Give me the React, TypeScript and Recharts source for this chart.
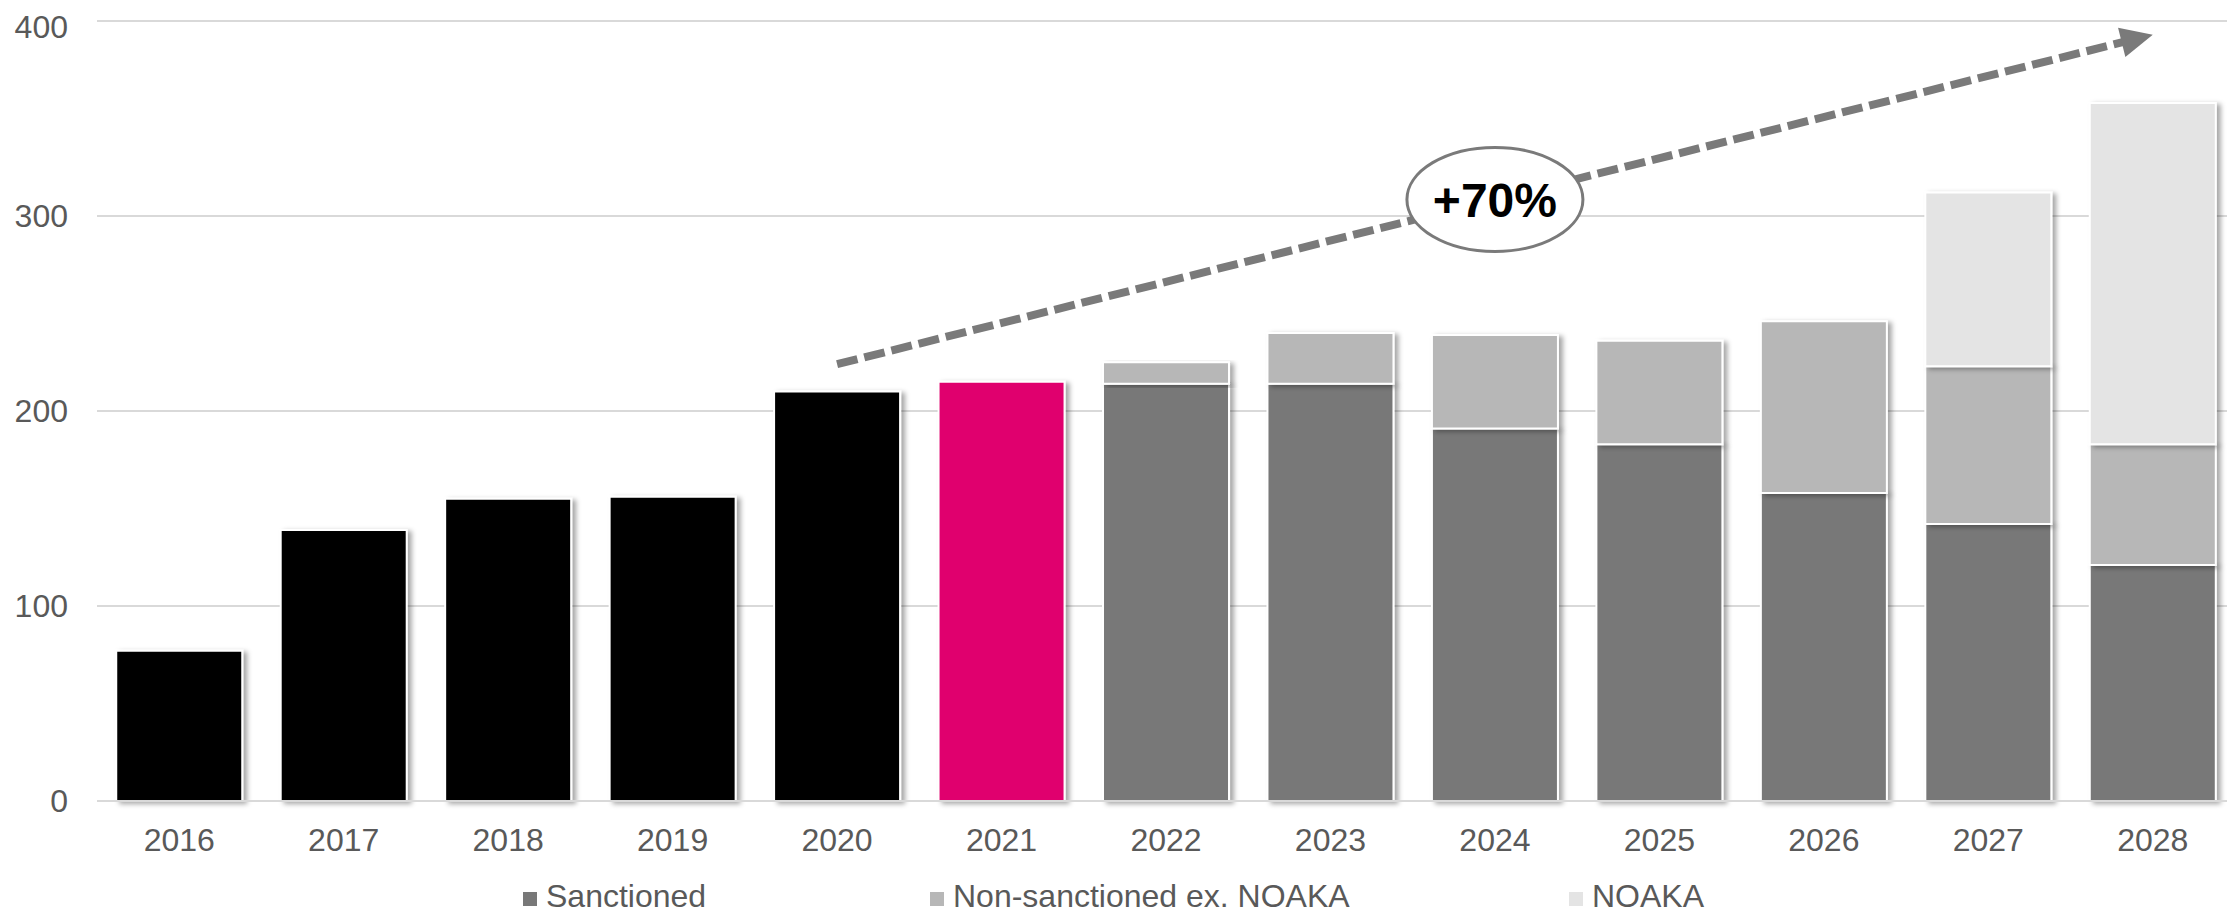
import React from "react";
import {
  BarChart,
  Bar,
  XAxis,
  YAxis,
  CartesianGrid,
  Legend,
  ReferenceLine,
  Rectangle,
  Cell,
} from "recharts";

// ---- data ----
const years = ["2016", "2017", "2018", "2019", "2020", "2021", "2022", "2023", "2024", "2025", "2026", "2027", "2028"];
const historical = [77, 139, 155, 156, 210, 215, null, null, null, null, null, null, null];
const sanctioned = [null, null, null, null, null, null, 214, 214, 191, 183, 158, 142, 121];
const nonSanctioned = [null, null, null, null, null, null, 11, 26, 48, 53, 88, 81, 62];
const noaka = [null, null, null, null, null, null, null, null, null, null, null, 89, 175];
const yTicks = [0, 100, 200, 300, 400];
const seriesNames = ["Sanctioned", "Non-sanctioned ex. NOAKA", "NOAKA"];
const trendStart = { x: "2020", y: 224 };
const trendEnd = { x: "2028", y: 393 };
const trendLabel = "+70%";
const highlightYear = "2021";

const data = years.map((year, i) => ({
  year,
  historical: historical[i],
  sanctioned: sanctioned[i],
  nonSanctioned: nonSanctioned[i],
  noaka: noaka[i],
}));

const FONT = '"Liberation Sans", Arial, Helvetica, sans-serif';
const TEXT_COLOR = "#595959";
const GRID = "#d9d9d9";
const C_SANCT = "#787878";
const C_NONS = "#b7b7b7";
const C_NOAKA = "#e4e4e4";
const C_HIST = "#000000";
const C_HIGHLIGHT = "#e0006e";
const ARROW = "#7a7a7a";

const ShadowBar = (props: any) => {
  const { x, y, width, height } = props;
  if (!height || height <= 0) return null;
  return (
    <Rectangle
      x={x}
      y={y}
      width={width}
      height={height}
      fill={props.fill}
      stroke="#ffffff"
      strokeWidth={2}
      filter="url(#barShadow)"
    />
  );
};

const TrendArrow = (props: any) => {
  const { x1, y1, x2, y2 } = props;
  if ([x1, y1, x2, y2].some((v) => typeof v !== "number" || isNaN(v))) return null;
  const dx = x2 - x1;
  const dy = y2 - y1;
  const L = Math.sqrt(dx * dx + dy * dy);
  const ux = dx / L;
  const uy = dy / L;
  const px = -uy;
  const py = ux;
  const headLen = 32;
  const headHalf = 15;
  const bx = x2 - ux * headLen;
  const by = y2 - uy * headLen;
  const lx = x2 - ux * (headLen - 4);
  const ly = y2 - uy * (headLen - 4);
  const cx = (x1 + x2) / 2;
  const cy = (y1 + y2) / 2;
  return (
    <g>
      <line
        x1={x1}
        y1={y1}
        x2={lx}
        y2={ly}
        stroke={ARROW}
        strokeWidth={8}
        strokeDasharray="21 7"
      />
      <polygon
        points={`${x2},${y2} ${bx + px * headHalf},${by + py * headHalf} ${bx - px * headHalf},${by - py * headHalf}`}
        fill={ARROW}
      />
      <ellipse cx={cx} cy={cy} rx={88} ry={52} fill="#ffffff" stroke={ARROW} strokeWidth={3} />
      <text
        x={cx}
        y={cy + 18}
        textAnchor="middle"
        fontFamily={FONT}
        fontWeight="bold"
        fontSize={48}
        fill="#000000"
      >
        {trendLabel}
      </text>
    </g>
  );
};

const legendX = [515, 922, 1561];

const LegendContent = (props: any) => {
  const payload = (props.payload || [])
    .filter((p: any) => p.type !== "none" && seriesNames.indexOf(p.value) >= 0)
    .slice()
    .sort((a: any, b: any) => seriesNames.indexOf(a.value) - seriesNames.indexOf(b.value));
  return (
    <div style={{ position: "relative", width: 2227, height: 42 }}>
      {payload.map((p: any) => (
        <div
          key={p.value}
          style={{
            position: "absolute",
            left: legendX[seriesNames.indexOf(p.value)],
            top: 11,
            height: 32,
            lineHeight: "32px",
            whiteSpace: "nowrap",
            fontFamily: FONT,
            fontSize: 32,
            color: TEXT_COLOR,
          }}
        >
          <span
            style={{
              position: "absolute",
              left: 0,
              top: 12,
              width: 14,
              height: 14,
              background: p.color,
            }}
          />
          <span style={{ position: "absolute", left: 23, top: 0 }}>{p.value}</span>
        </div>
      ))}
    </div>
  );
};

export default function App() {
  return (
    <div style={{ width: 2227, height: 903, background: "#ffffff" }}>
      <BarChart
        width={2227}
        height={903}
        data={data}
        margin={{ top: 13, right: 0, bottom: 0, left: 0 }}
        barCategoryGap="11.7%"
      >
        <defs>
          <filter id="barShadow" x="-10%" y="-10%" width="130%" height="130%">
            <feDropShadow dx={4} dy={2} stdDeviation={2.5} floodColor="#000000" floodOpacity={0.35} />
          </filter>
        </defs>
        <CartesianGrid vertical={false} stroke={GRID} strokeWidth={2} />
        <XAxis
          dataKey="year"
          height={68}
          tickLine={false}
          tickSize={0}
          tickMargin={27}
          axisLine={{ stroke: GRID, strokeWidth: 2 }}
          tick={{ fill: TEXT_COLOR, fontSize: 32, fontFamily: FONT }}
          interval={0}
        />
        <YAxis
          width={89}
          domain={[0, 400]}
          ticks={yTicks}
          tickLine={false}
          axisLine={false}
          tickSize={0}
          tickMargin={29}
          tick={{ fill: TEXT_COLOR, fontSize: 32, fontFamily: FONT }}
        />
        <Legend
          verticalAlign="bottom"
          content={<LegendContent />}
          wrapperStyle={{ left: 0, width: 2227, height: 42 }}
        />
        <Bar
          dataKey="historical"
          stackId="a"
          fill={C_HIST}
          legendType="none"
          isAnimationActive={false}
          shape={<ShadowBar />}
        >
          {data.map((d) => (
            <Cell key={d.year} fill={d.year === highlightYear ? C_HIGHLIGHT : C_HIST} />
          ))}
        </Bar>
        <Bar
          dataKey="sanctioned"
          name={seriesNames[0]}
          stackId="a"
          fill={C_SANCT}
          legendType="square"
          isAnimationActive={false}
          shape={<ShadowBar />}
        />
        <Bar
          dataKey="nonSanctioned"
          name={seriesNames[1]}
          stackId="a"
          fill={C_NONS}
          legendType="square"
          isAnimationActive={false}
          shape={<ShadowBar />}
        />
        <Bar
          dataKey="noaka"
          name={seriesNames[2]}
          stackId="a"
          fill={C_NOAKA}
          legendType="square"
          isAnimationActive={false}
          shape={<ShadowBar />}
        />
        <ReferenceLine
          segment={[trendStart, trendEnd]}
          stroke={ARROW}
          shape={<TrendArrow />}
          ifOverflow="visible"
        />
      </BarChart>
    </div>
  );
}
